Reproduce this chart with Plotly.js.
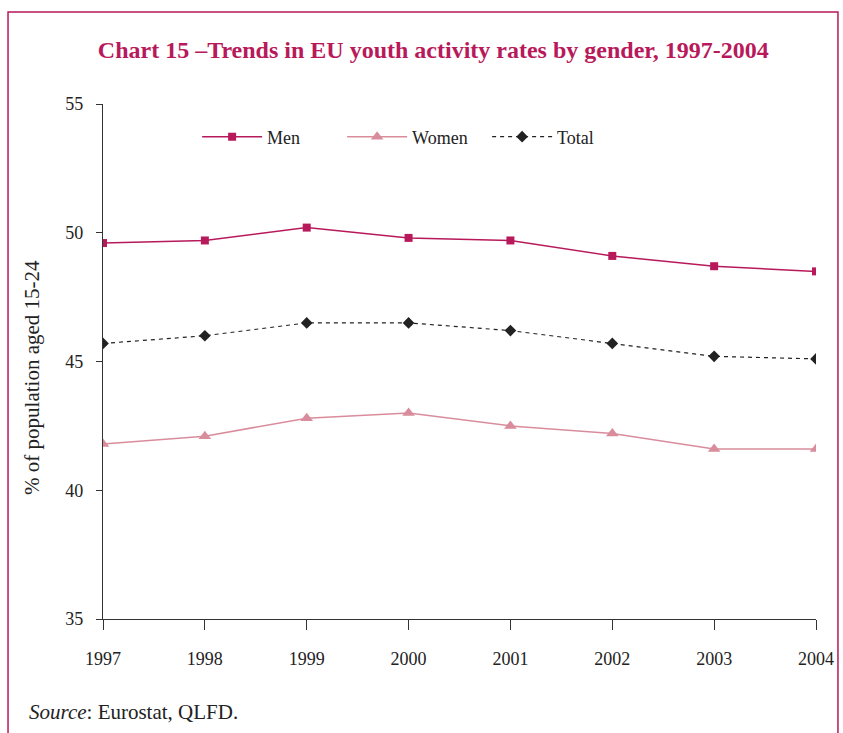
<!DOCTYPE html>
<html>
<head>
<meta charset="utf-8">
<script src="https://cdn.plot.ly/plotly-3.0.1.min.js"></script>
<style>
  html, body { margin: 0; padding: 0; background: #fff; }
  #chart { width: 843px; height: 733px; }
</style>
</head>
<body>
<div id="chart"></div>
<script>
// Youth activity rates (% of population aged 15-24), EU
const years = [1997, 1998, 1999, 2000, 2001, 2002, 2003, 2004];
const men   = [49.6, 49.7, 50.2, 49.8, 49.7, 49.1, 48.7, 48.5];
const women = [41.8, 42.1, 42.8, 43.0, 42.5, 42.2, 41.6, 41.6];
const total = [45.7, 46.0, 46.5, 46.5, 46.2, 45.7, 45.2, 45.1];
const yTicks = [35, 40, 45, 50, 55];

const crimson = '#B8195A';
const pink = '#D98C9C';
const serif = 'Liberation Serif, Times New Roman, serif';

const traces = [
  {
    x: years, y: men, name: 'Men', type: 'scatter', mode: 'lines+markers',
    line: { color: crimson, width: 1.5 },
    marker: { symbol: 'square', size: 8, color: crimson }
  },
  {
    x: years, y: women, name: 'Women', type: 'scatter', mode: 'lines+markers',
    line: { color: pink, width: 1.5 },
    marker: { symbol: 'triangle-up', size: 11, color: pink }
  },
  {
    x: years, y: total, name: 'Total', type: 'scatter', mode: 'lines+markers',
    line: { color: '#222', width: 1.2, dash: '4px,4px' },
    marker: { symbol: 'diamond', size: 9, color: '#222' }
  }
];

const layout = {
  width: 843, height: 733,
  margin: { l: 103, r: 27, t: 104, b: 114 },
  paper_bgcolor: '#fff', plot_bgcolor: '#fff',
  font: { family: serif, color: '#222', size: 18 },
  title: {
    text: '<b>Chart 15 –Trends in EU youth activity rates by gender, 1997-2004</b>',
    font: { family: serif, size: 24, color: crimson },
    x: 0.514, xanchor: 'center', y: 0.932, yanchor: 'middle'
  },
  showlegend: true,
  legend: {
    orientation: 'h', x: 0.132, xanchor: 'left', y: 0.936, yanchor: 'middle',
    font: { family: serif, size: 18, color: '#222' },
    itemwidth: 60, entrywidth: 70, entrywidthmode: 'pixels',
    bgcolor: 'rgba(0,0,0,0)'
  },
  xaxis: {
    range: [1997, 2004], tickvals: years, ticktext: years.map(String),
    showgrid: false, zeroline: false, showline: true, linecolor: '#333', linewidth: 1.2,
    ticks: 'outside', ticklen: 10, tickcolor: '#333',
    ticklabelstandoff: 13,
    tickfont: { family: serif, size: 18, color: '#222' }
  },
  yaxis: {
    range: [35, 55], tickvals: yTicks,
    showgrid: false, zeroline: false, showline: true, linecolor: '#333', linewidth: 1.2,
    ticks: 'outside', ticklen: 6, tickcolor: '#333',
    ticklabelstandoff: 9,
    tickfont: { family: serif, size: 18, color: '#222' }
  },
  annotations: [
    {
      text: '% of population aged 15-24', textangle: -90,
      xref: 'paper', yref: 'paper', x: -0.0996, y: 0.47,
      xanchor: 'center', yanchor: 'middle', showarrow: false,
      font: { family: serif, size: 21, color: '#222' }
    },
    {
      text: '<i>Source</i>: Eurostat, QLFD.',
      xref: 'paper', yref: 'paper', x: -0.1066, y: -0.1806,
      xanchor: 'left', yanchor: 'middle', showarrow: false,
      font: { family: serif, size: 21, color: '#222' }
    }
  ],
  shapes: [
    {
      type: 'path', xref: 'paper', yref: 'paper',
      path: 'M -0.1332 -0.3 L -0.1332 1.1786 L 1.0308 1.1786 L 1.0308 -0.3',
      line: { color: crimson, width: 1.5 }
    }
  ]
};

Plotly.newPlot('chart', traces, layout, { staticPlot: true, displayModeBar: false });
</script>
</body>
</html>
